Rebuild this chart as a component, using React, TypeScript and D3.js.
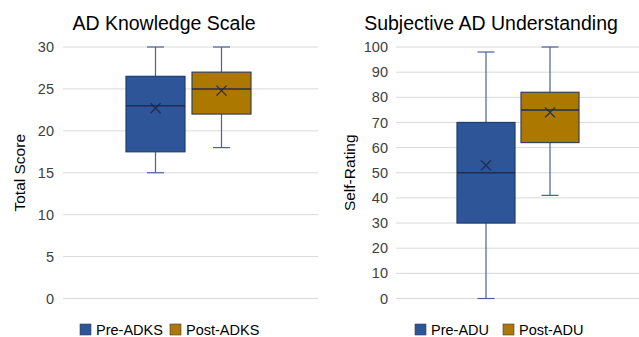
import React from "react";
import * as d3 from "d3";

// Left panel data
const leftSeries = ["Pre-ADKS", "Post-ADKS"];
const leftMin = [15, 18];
const leftQ1 = [17.5, 22];
const leftMedian = [23, 25];
const leftQ3 = [26.5, 27];
const leftMax = [30, 30];
const leftMean = [22.7, 24.8];
const leftTicks = [0, 5, 10, 15, 20, 25, 30];

// Right panel data
const rightSeries = ["Pre-ADU", "Post-ADU"];
const rightMin = [0, 41];
const rightQ1 = [30, 62];
const rightMedian = [50, 75];
const rightQ3 = [70, 82];
const rightMax = [98, 100];
const rightMean = [53, 74];
const rightTicks = [0, 10, 20, 30, 40, 50, 60, 70, 80, 90, 100];

const colors = ["#2E5597", "#AD7800"];
const FONT = "Liberation Sans, Arial, sans-serif";

type PanelProps = {
  title: string;
  yTitle: string;
  series: string[];
  mins: number[];
  q1: number[];
  med: number[];
  q3: number[];
  maxs: number[];
  means: number[];
  ticks: number[];
  x0: number;
  x1: number;
  tickX: number;
  yTitleX: number;
  titleX: number;
  boxStart: number;
  boxW: number;
  gap: number;
  legendX: number[];
};

function Panel(p: PanelProps) {
  const top = 47, bottom = 298.5;
  const y = d3.scaleLinear().domain([d3.min(p.ticks)!, d3.max(p.ticks)!]).range([bottom, top]);
  const band = d3.scaleBand().domain(p.series).range([p.boxStart, p.boxStart + p.boxW * 2 + p.gap]).paddingInner(p.gap / (p.boxW + p.gap)).paddingOuter(0);
  const capW = 17;
  return (
    <g>
      <text x={p.titleX} y={30} textAnchor="middle" fontSize={19.5} fill="#000" fontFamily={FONT}>{p.title}</text>
      {p.ticks.map((t) => (
        <g key={t}>
          <line x1={p.x0} x2={p.x1} y1={y(t)} y2={y(t)} stroke="#D9D9D9" strokeWidth={1} />
          <text x={p.tickX} y={y(t)} dy="0.35em" textAnchor="end" fontSize={14.5} fill="#404040" fontFamily={FONT}>{t}</text>
        </g>
      ))}
      <text transform={`translate(${p.yTitleX},${(top + bottom) / 2}) rotate(-90)`} textAnchor="middle" fontSize={15.5} fill="#000" fontFamily={FONT}>{p.yTitle}</text>
      {p.series.map((s, i) => {
        const bx = band(s)!;
        const bw = band.bandwidth();
        const cx = bx + bw / 2;
        const my = y(p.means[i]);
        return (
          <g key={s}>
            <line x1={cx} x2={cx} y1={y(p.maxs[i])} y2={y(p.q3[i])} stroke="#4A6296" strokeWidth={1.2} />
            <line x1={cx} x2={cx} y1={y(p.q1[i])} y2={y(p.mins[i])} stroke="#4A6296" strokeWidth={1.2} />
            <line x1={cx - capW / 2} x2={cx + capW / 2} y1={y(p.maxs[i])} y2={y(p.maxs[i])} stroke="#4A6296" strokeWidth={1.2} />
            <line x1={cx - capW / 2} x2={cx + capW / 2} y1={y(p.mins[i])} y2={y(p.mins[i])} stroke="#4A6296" strokeWidth={1.2} />
            <rect x={bx} y={y(p.q3[i])} width={bw} height={y(p.q1[i]) - y(p.q3[i])} fill={colors[i]} stroke={i === 0 ? "#1F3C74" : "#3A3F5C"} strokeWidth={1.2} />
            <line x1={bx} x2={bx + bw} y1={y(p.med[i])} y2={y(p.med[i])} stroke="#1F2D55" strokeWidth={1.5} />
            <path d={`M${cx - 5},${my - 5}L${cx + 5},${my + 5}M${cx - 5},${my + 5}L${cx + 5},${my - 5}`} stroke="#1F2D55" strokeWidth={1.3} fill="none" />
          </g>
        );
      })}
      {p.series.map((s, i) => (
        <g key={"lg" + s}>
          <rect x={p.legendX[i]} y={324} width={11} height={11} fill={colors[i]} stroke="#3A3F5C" strokeWidth={0.6} />
          <text x={p.legendX[i] + 16} y={335} fontSize={14.5} fill="#000" fontFamily={FONT}>{s}</text>
        </g>
      ))}
    </g>
  );
}

export default function App() {
  return (
    <svg width={639} height={337} style={{ position: "absolute", left: 0, top: 0, background: "#fff" }}>
      <rect width={639} height={337} fill="#fff" />
      <Panel title="AD Knowledge Scale" yTitle="Total Score" series={leftSeries} mins={leftMin} q1={leftQ1} med={leftMedian} q3={leftQ3} maxs={leftMax} means={leftMean} ticks={leftTicks}
        x0={63} x1={318} tickX={54} yTitleX={25} titleX={164} boxStart={126} boxW={59} gap={7} legendX={[80, 170]} />
      <Panel title="Subjective AD Understanding" yTitle="Self-Rating" series={rightSeries} mins={rightMin} q1={rightQ1} med={rightMedian} q3={rightQ3} maxs={rightMax} means={rightMean} ticks={rightTicks}
        x0={396} x1={639} tickX={388} yTitleX={355} titleX={491} boxStart={457} boxW={58} gap={6} legendX={[415, 503]} />
    </svg>
  );
}
